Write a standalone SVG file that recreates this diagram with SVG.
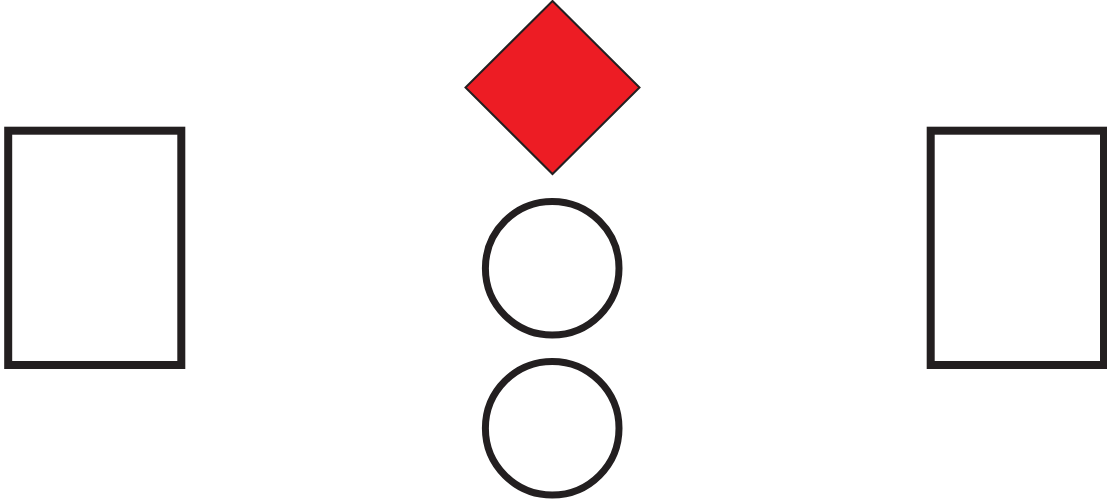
<svg xmlns="http://www.w3.org/2000/svg" width="1107" height="504" viewBox="0 0 1107 504">
<style>
.box{fill:#fff;stroke:#231F20;stroke-width:8}
.ring{fill:#fff;stroke:#231F20;stroke-width:7}
.dia{fill:#ED1C24;stroke:#231F20;stroke-width:2;stroke-linejoin:miter}
</style>
<rect width="1107" height="504" fill="#fff"/>
<g id="left-box"><rect class="box" x="8.2" y="130.7" width="173.1" height="234.3"/></g>
<g id="right-box"><rect class="box" x="930.7" y="130.7" width="173.3" height="234.3"/></g>
<g id="diamond"><polygon class="dia" points="552.5,1 639.5,87.5 552.5,174 465.5,87.5"/></g>
<g id="circle-top"><circle class="ring" cx="552.2" cy="268.3" r="66.8"/></g>
<g id="circle-bottom"><circle class="ring" cx="552.2" cy="428.3" r="66.8"/></g>
<g id="connectors"></g>
</svg>
